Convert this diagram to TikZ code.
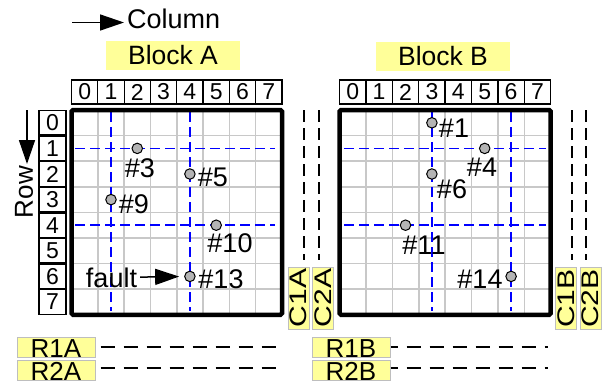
\documentclass[tikz,border=0pt]{standalone}
\usepackage{fontspec}
\setmainfont{Liberation Sans}
\usetikzlibrary{arrows.meta}
\definecolor{lbl}{RGB}{255,255,153}
\definecolor{lblborder}{RGB}{190,190,190}
\definecolor{gridc}{RGB}{200,200,200}
\definecolor{ptc}{RGB}{180,180,180}
\begin{document}
\begin{tikzpicture}[x=1pt,y=-1pt,
  hdr/.style={draw, line width=1.2pt, minimum width=26.3pt, minimum height=24pt, inner sep=0pt, font=\fontsize{23}{23}\selectfont},
  rowc/.style={draw, line width=1.2pt, minimum width=27pt, minimum height=24.4pt, inner sep=0pt, font=\fontsize{23}{23}\selectfont},
  gridline/.style={gridc, line width=1.6pt},
  frame/.style={line width=4.5pt, rounded corners=1.5pt},
  bluedash/.style={blue, line width=1.5pt, dash pattern=on 10pt off 5pt},
  cdash/.style={black, line width=2pt, dash pattern=on 12pt off 6pt},
  rdash/.style={black, line width=2pt, dash pattern=on 14pt off 9pt},
  pt/.style={circle, draw, fill=ptc, minimum size=10.5pt, inner sep=0pt, line width=1pt},
  lab/.style={inner sep=0pt, font=\fontsize{27}{27}\selectfont},
  blockbox/.style={fill=lbl, minimum width=134pt, minimum height=29pt, inner sep=0pt, font=\fontsize{26.5}{26.5}\selectfont},
  cbox/.style={fill=lbl, draw=lblborder, line width=1pt, rotate=90, minimum width=62pt, minimum height=21pt, inner sep=0pt, font=\fontsize{24}{24}\selectfont},
  rbox/.style={fill=lbl, draw=lblborder, line width=1pt, minimum width=78pt, inner sep=0pt, text depth=0pt, font=\fontsize{26}{26}\selectfont},
  bigarrow/.style={-{Triangle[length=24pt,width=16pt]}, line width=1.5pt}
]
\useasboundingbox (0,0) rectangle (607,381);
\fill[white] (0,0) rectangle (607,381);

% Column / Row indicators
\node[inner sep=0pt, anchor=west, font=\fontsize{27}{27}\selectfont] (colt) at (127,19) {Column};
\coordinate (cs) at (72,22.5);
\coordinate (ce) at (124,22.5);
\draw[bigarrow] (cs) -- (ce);
\node[inner sep=0pt, rotate=90, font=\fontsize{26}{26}\selectfont] (rowt) at (24,192) {Row};
\coordinate (rs) at (27,110);
\coordinate (re) at (27,164);
\draw[bigarrow] (rs) -- (re);

% Block labels
\node[blockbox] (blkA) at (173,55.5) {Block A};
\node[blockbox] (blkB) at (443,56) {Block B};

% header cells and row cells
\foreach \i in {0,...,7} {
  \node[hdr] (hA\i) at ({71.5+26.3*(\i+0.5)},92) {\i};
  \node[hdr] (hB\i) at ({339.5+26.4*(\i+0.5)},92) {\i};
  \node[rowc] (r\i) at (52.5,{110+25.6*(\i+0.5)}) {\i};
}

% grids
\foreach \i in {1,...,7} {
  \draw[gridline] ({71.5+26.3*\i},110) -- ({71.5+26.3*\i},314.8);
  \draw[gridline] (71.5,{110+25.6*\i}) -- (282,{110+25.6*\i});
  \draw[gridline] ({339.5+26.4*\i},110) -- ({339.5+26.4*\i},314.8);
  \draw[gridline] (339.5,{110+25.6*\i}) -- (550.7,{110+25.6*\i});
}

% blue dashed lines A
\draw[bluedash] (111,112) -- (111,311);
\draw[bluedash] (189.9,112) -- (189.9,311);
\draw[bluedash] (75,148.4) -- (275,148.4);
\draw[bluedash] (75,225.2) -- (275,225.2);
% blue dashed lines B
\draw[bluedash] (431.9,112) -- (431.9,311);
\draw[bluedash] (511.1,112) -- (511.1,311);
\draw[bluedash] (344,148.4) -- (546,148.4);
\draw[bluedash] (344,225.2) -- (546,225.2);

% frames
\draw[frame] (71.5,110) rectangle (282,314.8);
\draw[frame] (339.5,110) rectangle (550.7,314.8);

% points A
\node[pt] (p3) at (137.25,148.4) {};
\node[lab] (l3) at (140,168) {\#3};
\node[pt] (p5) at (189.9,174) {};
\node[lab] (l5) at (213,177) {\#5};
\node[pt] (p9) at (111,199.6) {};
\node[lab] (l9) at (134,204) {\#9};
\node[pt] (p10) at (216.2,225.2) {};
\node[lab] (l10) at (230,243) {\#10};
\node[pt] (p13) at (189.9,276.4) {};
\node[lab] (l13) at (221,279) {\#13};
\node[lab] (fault) at (111.5,277.5) {fault};
\draw[bigarrow, shorten <=3pt, shorten >=5pt] (fault) -- (p13);

% points B
\node[pt] (p1) at (431.9,122.8) {};
\node[lab] (l1) at (454,128) {\#1};
\node[pt] (p4) at (484.7,148.4) {};
\node[lab] (l4) at (482,167) {\#4};
\node[pt] (p6) at (431.9,174) {};
\node[lab] (l6) at (452,189) {\#6};
\node[pt] (p11) at (405.5,225.2) {};
\node[lab] (l11) at (424,245) {\#11};
\node[pt] (p14) at (511.1,276.4) {};
\node[lab] (l14) at (480,279) {\#14};

% column bus lines
\coordinate (c1At) at (304,110); \coordinate (c1Ab) at (304,260);
\coordinate (c2At) at (319,110); \coordinate (c2Ab) at (319,260);
\coordinate (c1Bt) at (572,110); \coordinate (c1Bb) at (572,260);
\coordinate (c2Bt) at (586,110); \coordinate (c2Bb) at (586,260);
\draw[cdash] (c1At) -- (c1Ab);
\draw[cdash] (c2At) -- (c2Ab);
\draw[cdash] (c1Bt) -- (c1Bb);
\draw[cdash] (c2Bt) -- (c2Bb);
\node[cbox] (C1A) at (298.5,298) {\scalebox{1.25}[1]{C1A}};
\node[cbox] (C2A) at (323,298) {\scalebox{1.25}[1]{C2A}};
\node[cbox] (C1B) at (566,298.5) {\scalebox{1.25}[1]{C1B}};
\node[cbox] (C2B) at (590.5,298.5) {\scalebox{1.25}[1]{C2B}};

% row bus lines
\node[rbox, text height=20pt] (R1A) at (56,347) {R1A};
\node[rbox, text height=20pt] (R2A) at (56,370) {R2A};
\node[rbox, text height=20pt] (R1B) at (351,347) {R1B};
\node[rbox, text height=20pt] (R2B) at (351,370) {R2B};
\coordinate (r1Ae) at (279,347);
\coordinate (r2Ae) at (279,368);
\coordinate (r1Be) at (548,347);
\coordinate (r2Be) at (548,368);
\draw[rdash, shorten <=5pt] (R1A.east) -- (r1Ae);
\draw[rdash, shorten <=5pt] (R2A.east |- r2Ae) -- (r2Ae);
\draw[rdash, dash phase=7pt] (R1B.east) -- (r1Be);
\draw[rdash, dash phase=7pt] (R2B.east |- r2Be) -- (r2Be);
\end{tikzpicture}
\end{document}
